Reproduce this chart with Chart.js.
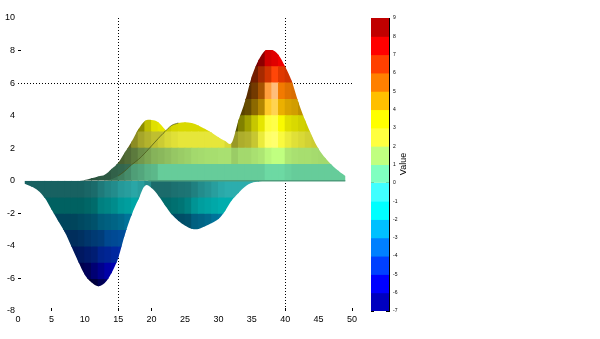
<!DOCTYPE html>
<html>
<head>
<meta charset="utf-8">
<script src="https://cdn.jsdelivr.net/npm/chart.js@4"></script>
<style>
  body { margin: 0; background: #fff; }
  #main { position: absolute; left: 0; top: 0; }
  #bar { position: absolute; left: 350px; top: 0; }
</style>
</head>
<body>
<canvas id="main" width="600" height="339"></canvas>
<canvas id="bar" width="70" height="339"></canvas>
<script>
// Axis ticks
const xTicks = [0, 5, 10, 15, 20, 25, 30, 35, 40, 45, 50];
const yTicks = [10, 8, 6, 4, 2, 0, -2, -4, -6, -8];
const levels = [9, 8, 7, 6, 5, 4, 3, 2, 1, 0, -1, -2, -3, -4, -5, -6, -7];
const levelColors = ['#c00000', '#ff0000', '#ff4000', '#ff8000', '#ffbf00', '#ffff00', '#ffff40', '#c0ff80',
  '#80ffc0', '#40ffff', '#00ffff', '#00c0ff', '#0080ff', '#0040ff', '#0000ff', '#0000bf'];

// Surface outline, one value per grid column
const lowerX = [1, 2, 3, 4, 5, 6, 7, 8, 9, 10, 11, 12, 13, 14, 15, 16, 17, 18, 19, 20, 21, 22, 23, 24, 25, 26, 27, 28, 29, 30, 31, 32, 33, 34, 35, 36, 37];
const lowerY = [-0.18, -0.35, -0.6, -1.05, -1.75, -2.45, -3.15, -4.03, -4.95, -5.77, -6.24, -6.48, -6.27, -5.66, -4.74, -3.3, -2.1, -1.17, -0.3, -0.45, -0.9, -1.5, -2.05, -2.45, -2.75, -2.95, -2.97, -2.8, -2.6, -2.35, -1.85, -1.2, -0.75, -0.35, -0.12, -0.05, 0];
const backX = [9, 10, 11, 12, 13, 14, 15, 16, 17, 18, 19, 20, 21, 22, 23];
const backY = [0, 0.05, 0.15, 0.27, 0.37, 0.72, 1.1, 1.75, 2.4, 3.15, 3.68, 3.74, 3.6, 3.15, 2.6];
const frontX = [13, 14, 15, 16, 17, 18, 19, 20, 21, 22, 23, 24, 25, 26, 27, 28, 29, 30, 31, 32, 33, 34, 35, 36, 37, 38, 39, 40, 41, 42, 43, 44, 45, 46, 47, 48, 49];
const frontY = [0, 0.1, 0.3, 0.6, 0.98, 1.3, 1.7, 2.15, 2.6, 3.02, 3.4, 3.55, 3.6, 3.55, 3.4, 3.18, 2.95, 2.68, 2.45, 2.33, 3.7, 4.9, 6.4, 7.4, 8.0, 8.05, 7.73, 7.0, 6.1, 4.8, 3.7, 2.75, 1.95, 1.4, 0.95, 0.6, 0.3];
// crease where the front ridge passes over the back one, and the fold along zero
const creaseX = [15, 16, 17, 18, 19, 20, 21, 22, 23, 24];
const creaseY = [0.3, 0.6, 0.98, 1.3, 1.7, 2.15, 2.6, 3.02, 3.4, 3.55];
const foldX = [19.5, 49];
const foldY = [0, 0];

// Lighting on each facet: band floor -> first column, then brightness per column
const lowerShade = {
  '-1': [1, 0.38, 0.38, 0.38, 0.38, 0.38, 0.38, 0.38, 0.38, 0.38, 0.4, 0.42, 0.48, 0.52, 0.55, 0.6, 0.62, 0.65, 0.62, 0.55, 0.42, 0.42, 0.42, 0.44, 0.45, 0.46, 0.5, 0.55, 0.58, 0.62, 0.66, 0.68, 0.68, 0.68, 0.68, 0.68, 0.68],
  '-2': [3, 0.38, 0.38, 0.38, 0.38, 0.38, 0.38, 0.38, 0.4, 0.42, 0.5, 0.52, 0.55, 0.6, 0.62, 0.65, 0.62, 0.62, 0.42, 0.42, 0.42, 0.44, 0.46, 0.5, 0.58, 0.62, 0.64, 0.66, 0.68, 0.68, 0.68],
  '-3': [5, 0.36, 0.36, 0.36, 0.36, 0.38, 0.4, 0.42, 0.48, 0.5, 0.52, 0.55, 0.6, 0.6, 0.6, 0.6, 0.4, 0.4, 0.4, 0.4, 0.4, 0.42, 0.5, 0.52, 0.55, 0.6, 0.62, 0.62],
  '-4': [6, 0.36, 0.36, 0.36, 0.38, 0.42, 0.45, 0.48, 0.56, 0.58, 0.6, 0.62],
  '-5': [8, 0.36, 0.38, 0.42, 0.45, 0.55, 0.58, 0.62, 0.65],
  '-6': [9, 0.3, 0.35, 0.45, 0.55, 0.65, 0.7, 0.7],
  '-7': [10, 0.25, 0.32, 0.45, 0.55, 0.6]
};
const backShade = {
  0: [9, 0.3, 0.3, 0.33, 0.35, 0.35, 0.38, 0.4, 0.42, 0.45, 0.48, 0.5, 0.5, 0.5, 0.5],
  1: [14, 0.35, 0.38, 0.42, 0.48, 0.55, 0.58, 0.6, 0.62, 0.62],
  2: [15, 0.35, 0.4, 0.55, 0.65, 0.7, 0.75, 0.75, 0.75],
  3: [17, 0.42, 0.55, 0.75, 0.88, 0.9, 0.9]
};
const frontShade = {
  0: [13, 0.45, 0.45, 0.5, 0.55, 0.62, 0.65, 0.7, 0.72, 0.8, 0.8, 0.8, 0.8, 0.8, 0.8, 0.8, 0.8, 0.8, 0.8, 0.8, 0.8, 0.8, 0.8, 0.8, 0.8, 0.85, 0.85, 0.85, 0.82, 0.8, 0.8, 0.8, 0.8, 0.8, 0.8, 0.8, 0.8],
  1: [16, 0.5, 0.55, 0.6, 0.65, 0.7, 0.72, 0.75, 0.78, 0.8, 0.82, 0.85, 0.86, 0.87, 0.87, 0.88, 0.88, 0.8, 0.85, 0.85, 0.88, 0.9, 0.97, 1, 1, 0.9, 0.88, 0.87, 0.87, 0.86, 0.85, 0.85],
  2: [19, 0.65, 0.75, 0.8, 0.85, 0.88, 0.9, 0.9, 0.9, 0.9, 0.9, 0.9, 0.9, 0.85, 0.6, 0.68, 0.7, 0.78, 0.92, 1.12, 1.15, 0.98, 0.92, 0.88, 0.85, 0.82, 0.8],
  3: [21, 0.7, 0.8, 0.84, 0.85, 0.85, 0.85, 0.85, 0.85, 0.85, 0.85, 0.85, 0.33, 0.5, 0.63, 0.78, 0.9, 1.15, 1.18, 0.98, 0.88, 0.85, 0.82, 0.8],
  4: [33, 0.35, 0.4, 0.55, 0.7, 1.1, 1.2, 0.92, 0.85, 0.82, 0.75],
  5: [33, 0.35, 0.35, 0.45, 0.65, 1.15, 1.3, 0.95, 0.88, 0.85],
  6: [34, 0.35, 0.45, 0.65, 0.82, 1.02, 0.88, 0.82, 0.78],
  7: [35, 0.45, 0.55, 0.82, 0.88, 0.95, 0.88]
};

function levelColor(floor) {
  return levelColors[levels[0] - 1 - floor];
}

// brightness below 1 darkens, above 1 goes toward white
function lit(hex, k) {
  const ch = [1, 3, 5].map(i => parseInt(hex.slice(i, i + 2), 16));
  const out = ch.map(c => k <= 1 ? c * k : c + (255 - c) * (k - 1) * 1.6);
  return 'rgb(' + out.map(c => Math.round(Math.min(255, c))).join(',') + ')';
}

function surfaceDatasets(rows, outX, outY, order) {
  return Object.keys(rows).map(key => {
    const floor = Number(key);
    const vals = rows[key].slice(1);
    return {
      order: order,
      outlineX: outX,
      outlineY: outY,
      data: vals.map((k, i) => ({ x: rows[key][0] + i + 0.5, y: [floor, floor + 1] })),
      backgroundColor: vals.map(k => lit(levelColor(floor), k))
    };
  });
}

function lineDataset(xs, ys, color, width) {
  return {
    type: 'line',
    order: 0,
    data: xs.map((x, i) => ({ x: x, y: ys[i] })),
    borderColor: color,
    borderWidth: width,
    pointRadius: 0,
    tension: 0.4
  };
}

// keep each surface's cells inside its outline
const outlineClip = {
  id: 'outlineClip',
  beforeDatasetDraw(chart, args) {
    const ds = chart.data.datasets[args.index];
    if (!ds.outlineX) return;
    const { x, y } = chart.scales;
    const c = chart.ctx;
    const pts = ds.outlineX.map((v, i) => [x.getPixelForValue(v), y.getPixelForValue(ds.outlineY[i])]);
    c.save();
    c.beginPath();
    c.moveTo(pts[0][0], y.getPixelForValue(0));
    c.lineTo(pts[0][0], pts[0][1]);
    for (let i = 0; i < pts.length - 1; i++) {
      const p0 = pts[Math.max(i - 1, 0)], p1 = pts[i], p2 = pts[i + 1], p3 = pts[Math.min(i + 2, pts.length - 1)];
      c.bezierCurveTo(p1[0] + (p2[0] - p0[0]) / 6, p1[1] + (p2[1] - p0[1]) / 6,
        p2[0] - (p3[0] - p1[0]) / 6, p2[1] - (p3[1] - p1[1]) / 6, p2[0], p2[1]);
    }
    c.lineTo(pts[pts.length - 1][0], y.getPixelForValue(0));
    c.closePath();
    c.clip();
  },
  afterDatasetDraw(chart, args) {
    if (chart.data.datasets[args.index].outlineX) chart.ctx.restore();
  }
};

const tickFont = { family: 'Liberation Sans', size: 9 };

new Chart(document.getElementById('main').getContext('2d'), {
  type: 'bar',
  data: {
    datasets: [
      lineDataset(creaseX, creaseY, 'rgba(70, 80, 20, 0.7)', 1),
      lineDataset(foldX, foldY, '#4e9e7c', 1.5),
      ...surfaceDatasets(lowerShade, lowerX, lowerY, 3),
      ...surfaceDatasets(backShade, backX, backY, 2),
      ...surfaceDatasets(frontShade, frontX, frontY, 1)
    ]
  },
  plugins: [outlineClip],
  options: {
    responsive: false,
    animation: false,
    layout: { padding: { top: 18, right: 248, bottom: 0, left: 0 } },
    datasets: { bar: { grouped: false, barPercentage: 1, categoryPercentage: 1, inflateAmount: 0.5, borderWidth: 0 } },
    plugins: { legend: { display: false }, tooltip: { enabled: false } },
    scales: {
      x: {
        type: 'linear', offset: false, min: 0, max: 50,
        afterBuildTicks: s => { s.ticks = xTicks.map(v => ({ value: v })); },
        afterFit: s => { s.height = 28; },
        border: { display: false, dash: [1, 2] },
        grid: {
          offset: false,
          tickLength: -3,
          color: c => [15, 40].includes(c.tick.value) ? '#000' : 'transparent',
          tickColor: c => [5, 15, 20, 40, 50].includes(c.tick.value) ? '#000' : 'transparent',
          tickBorderDash: []
        },
        ticks: { color: '#000', font: tickFont, padding: 6, maxRotation: 0, autoSkip: false }
      },
      y: {
        min: -8, max: 10,
        afterBuildTicks: s => { s.ticks = yTicks.map(v => ({ value: v })); },
        afterFit: s => { s.width = 18; },
        border: { display: false, dash: [1, 2] },
        grid: {
          tickLength: -3,
          color: c => c.tick.value === 6 ? '#000' : 'transparent',
          tickColor: c => [8, -2, -6].includes(c.tick.value) ? '#000' : 'transparent',
          tickBorderDash: []
        },
        ticks: { color: '#000', font: tickFont, padding: 6 }
      }
    }
  }
});

// rotated label of the colour bar reads bottom to top
const barLabel = {
  id: 'barLabel',
  afterDraw(chart) {
    const c = chart.ctx;
    c.save();
    c.translate(54, 164);
    c.rotate(-Math.PI / 2);
    c.font = '9px "Liberation Sans"';
    c.fillStyle = '#000';
    c.textAlign = 'center';
    c.textBaseline = 'middle';
    c.fillText('Value', 0, 0);
    c.restore();
  }
};

new Chart(document.getElementById('bar').getContext('2d'), {
  type: 'bar',
  data: {
    labels: ['Value'],
    datasets: levelColors.map((color, i) => ({
      data: [[levels[i + 1], levels[i]]],
      backgroundColor: color
    }))
  },
  plugins: [barLabel],
  options: {
    responsive: false,
    animation: false,
    layout: { padding: { top: 18, right: 0, bottom: 28, left: 0 } },
    datasets: { bar: { grouped: false, barPercentage: 1, categoryPercentage: 1, inflateAmount: 0.5, borderWidth: 0 } },
    plugins: { legend: { display: false }, tooltip: { enabled: false } },
    scales: {
      x: { display: false },
      y: {
        position: 'right', min: -7, max: 9,
        afterBuildTicks: s => { s.ticks = levels.map(v => ({ value: v })); },
        afterFit: s => { s.width = 31; },
        border: { display: true, color: '#000', width: 1 },
        grid: { drawOnChartArea: false, tickLength: -3, tickColor: '#000' },
        ticks: { color: '#000', font: { family: 'Liberation Sans', size: 5 }, padding: 7 }
      },
      yLeft: {
        position: 'left', min: -7, max: 9,
        afterBuildTicks: s => { s.ticks = levels.map(v => ({ value: v })); },
        afterFit: s => { s.width = 21; },
        border: { display: true, color: '#000', width: 1 },
        grid: { drawOnChartArea: false, tickLength: -3, tickColor: '#000' },
        ticks: { display: false }
      }
    }
  }
});
</script>
</body>
</html>
